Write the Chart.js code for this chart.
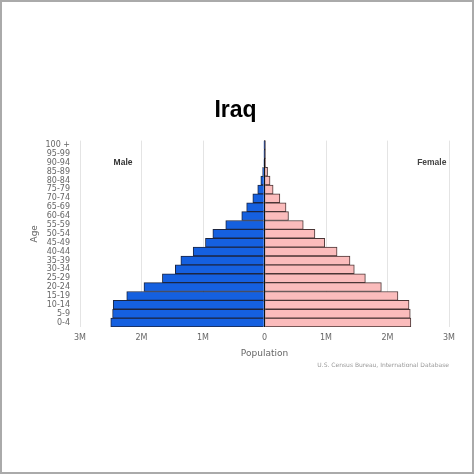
<!DOCTYPE html>
<html>
<head>
<meta charset="utf-8">
<script src="https://cdn.jsdelivr.net/npm/chart.js@4/dist/chart.umd.min.js"></script>
<style>
  html, body { margin: 0; padding: 0; background: #fff; }
  canvas { display: block; }
</style>
</head>
<body>
<canvas id="pyramid" width="474" height="474"></canvas>
<script>
// Faixas etárias (de baixo para cima)
const ageGroups = ['0-4', '5-9', '10-14', '15-19', '20-24', '25-29', '30-34', '35-39', '40-44', '45-49',
  '50-54', '55-59', '60-64', '65-69', '70-74', '75-79', '80-84', '85-89', '90-94', '95-99', '100 +'];

// População em milhões
const maleMillions = [2.50, 2.47, 2.46, 2.24, 1.96, 1.66, 1.45, 1.36, 1.16, 0.96,
  0.84, 0.63, 0.37, 0.29, 0.19, 0.11, 0.06, 0.03, 0.01, 0.002, 0.0005];
const femaleMillions = [2.38, 2.37, 2.35, 2.17, 1.90, 1.64, 1.46, 1.39, 1.18, 0.98,
  0.82, 0.63, 0.39, 0.35, 0.25, 0.14, 0.09, 0.05, 0.015, 0.003, 0.0005];

const xTicks = [-3e6, -2e6, -1e6, 0, 1e6, 2e6, 3e6];

const chartTitle = 'Iraq';
const creditText = 'U.S. Census Bureau, International Database';

Chart.defaults.font.family = 'DejaVu Sans';

// Rótulos Male / Female, crédito e moldura cinza
const extras = {
  id: 'extras',
  beforeDraw(chart) {
    const c = chart.ctx;
    c.save();
    c.fillStyle = '#fff';
    c.fillRect(0, 0, chart.width, chart.height);
    c.restore();
  },
  afterDraw(chart) {
    const c = chart.ctx;
    const x = chart.scales.x, y = chart.scales.y;
    const rowY = y.getPixelForValue(ageGroups.indexOf('90-94'));
    c.save();
    c.font = 'bold 8.5px "Liberation Sans"';
    c.fillStyle = '#333';
    c.textAlign = 'center';
    c.textBaseline = 'middle';
    c.fillText('Male', x.getPixelForValue(-2.3e6), rowY);
    c.fillStyle = '#444';
    c.fillText('Female', x.getPixelForValue(2.72e6), rowY);

    c.font = '6px "DejaVu Sans"';
    c.fillStyle = '#999';
    c.textAlign = 'right';
    c.fillText(creditText, chart.chartArea.right, x.bottom - 2);

    c.strokeStyle = '#aaa';
    c.lineWidth = 2;
    c.strokeRect(1, 1, chart.width - 2, chart.height - 2);
    c.restore();
  }
};

const ctx = document.getElementById('pyramid').getContext('2d');

new Chart(ctx, {
  type: 'bar',
  data: {
    labels: ageGroups,
    datasets: [{
      label: 'Male',
      data: maleMillions.map(v => -v * 1e6),
      backgroundColor: '#1560e0',
      borderColor: '#1c2540',
      borderWidth: 1,
      barPercentage: 1,
      categoryPercentage: 1
    }, {
      label: 'Female',
      data: femaleMillions.map(v => v * 1e6),
      backgroundColor: '#fbbcbc',
      borderColor: '#4a3535',
      borderWidth: 1,
      barPercentage: 1,
      categoryPercentage: 1
    }]
  },
  options: {
    indexAxis: 'y',
    responsive: false,
    animation: false,
    layout: { padding: { left: 22, right: 25, top: 97, bottom: 107 } },
    plugins: {
      legend: { display: false },
      tooltip: { enabled: false },
      title: {
        display: true,
        text: chartTitle,
        color: '#000',
        font: { family: 'Liberation Sans', size: 23, weight: 'bold' },
        padding: { top: 0, bottom: 16 }
      }
    },
    scales: {
      x: {
        stacked: true,
        min: -3e6,
        max: 3e6,
        afterBuildTicks: s => { s.ticks = xTicks.map(v => ({ value: v })); },
        afterFit: s => { s.height = 40; },
        border: { display: false },
        grid: {
          drawTicks: false,
          color: c => (c.tick && c.tick.value === 0) ? '#111' : '#e4e4e4',
          lineWidth: c => (c.tick && c.tick.value === 0) ? 1.5 : 1
        },
        ticks: {
          color: '#666',
          font: { size: 8 },
          padding: 6,
          callback: v => v === 0 ? '0' : Math.abs(v) / 1e6 + 'M'
        },
        title: {
          display: true,
          text: 'Population',
          color: '#666',
          font: { size: 9 },
          padding: { top: 0, bottom: 8 }
        }
      },
      y: {
        stacked: true,
        reverse: true,
        afterFit: s => { s.width = 58; },
        border: { display: false },
        grid: { display: false, drawTicks: false },
        ticks: {
          color: '#666',
          font: { size: 8 },
          padding: 10,
          autoSkip: false
        },
        title: {
          display: true,
          text: 'Age',
          color: '#666',
          font: { size: 9 },
          padding: { top: 7, bottom: 0 }
        }
      }
    }
  },
  plugins: [extras]
});
</script>
</body>
</html>
